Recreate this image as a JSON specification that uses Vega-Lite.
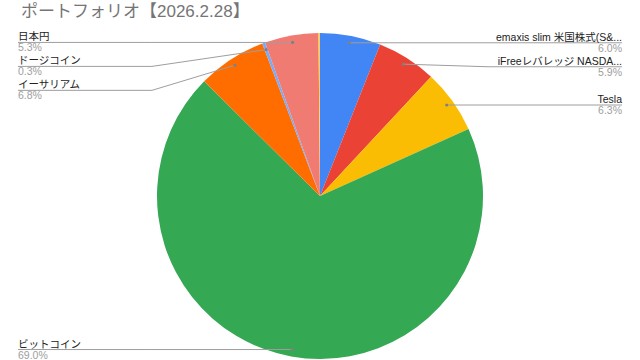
{
  "$schema": "https://vega.github.io/schema/vega-lite/v6.json",
  "width": 640,
  "height": 360,
  "padding": 0,
  "autosize": {"type": "none"},
  "background": "white",
  "config": {"view": {"stroke": null}},
  "title": {
    "text": "ポートフォリオ【2026.2.28】",
    "anchor": "start",
    "frame": "group",
    "fontSize": 17,
    "fontWeight": "normal",
    "font": "Liberation Sans, Noto Sans CJK JP",
    "color": "#757575",
    "baseline": "top",
    "offset": -21,
    "dx": 21
  },
  "data": {
    "values": [
      {"i": 1, "name": "emaxis slim 米国株式(S&...", "value": 6.0},
      {"i": 2, "name": "iFreeレバレッジ NASDA...", "value": 5.9},
      {"i": 3, "name": "Tesla", "value": 6.3},
      {"i": 4, "name": "ビットコイン", "value": 69.0},
      {"i": 5, "name": "イーサリアム", "value": 6.8},
      {"i": 6, "name": "ドージコイン", "value": 0.3},
      {"i": 7, "name": "日本円", "value": 5.3},
      {"i": 8, "name": "その他", "value": 0.15}
    ]
  },
  "transform": [
    {"joinaggregate": [{"op": "sum", "field": "value", "as": "total"}]},
    {"window": [{"op": "sum", "field": "value", "as": "cum"}], "sort": [{"field": "i"}], "frame": [null, 0]}
  ],
  "layer": [
    {
      "mark": {"type": "arc", "outerRadius": 163},
      "encoding": {
        "x": {"datum": 0, "type": "quantitative", "scale": {"domain": [-1.9632, 1.9632], "nice": false, "zero": false}, "axis": null},
        "y": {"datum": 0, "type": "quantitative", "scale": {"domain": [-1.0061, 1.2025], "nice": false, "zero": false}, "axis": null},
        "theta": {"field": "value", "type": "quantitative", "stack": true},
        "order": {"field": "i", "type": "quantitative"},
        "color": {
          "field": "name",
          "type": "nominal",
          "legend": null,
          "scale": {
            "domain": ["emaxis slim 米国株式(S&...", "iFreeレバレッジ NASDA...", "Tesla", "ビットコイン", "イーサリアム", "ドージコイン", "日本円", "その他"],
            "range": ["#4285F4", "#EA4335", "#FBBC04", "#34A853", "#FF6D01", "#7BAAF7", "#F07B72", "#FCD04F"]
          }
        }
      }
    },
    {
      "transform": [
        {"filter": "datum.value > 0.2"},
        {"calculate": "(datum.cum - datum.value / 2) / datum.total * 2 * PI", "as": "mid"},
        {"calculate": "0.957 * sin(datum.mid)", "as": "dx"},
        {"calculate": "0.957 * cos(datum.mid)", "as": "dy"},
        {"calculate": "sin(datum.mid) >= 0 ? 1 : -1", "as": "side"},
        {"window": [{"op": "row_number", "as": "rank"}], "groupby": ["side"], "sort": [{"field": "dy", "order": "descending"}]},
        {"calculate": "datum.dy + 0.147 * datum.rank", "as": "t"},
        {"window": [{"op": "min", "field": "t", "as": "tmin"}], "groupby": ["side"], "sort": [{"field": "dy", "order": "descending"}], "frame": [null, 0]},
        {"calculate": "datum.tmin - 0.147 * datum.rank", "as": "ly"},
        {"calculate": "datum.side * 1.853", "as": "lx"},
        {"calculate": "datum.side * 1.031", "as": "bx"},
        {"calculate": "format(datum.value, '.1f') + '%'", "as": "pct"}
      ],
      "layer": [
        {
          "mark": {"type": "rule", "color": "#9e9e9e", "strokeWidth": 1},
          "encoding": {
            "x": {"field": "lx", "type": "quantitative"},
            "x2": {"field": "bx"},
            "y": {"field": "ly", "type": "quantitative"},
            "y2": {"field": "ly"}
          }
        },
        {
          "mark": {"type": "rule", "color": "#9e9e9e", "strokeWidth": 1},
          "encoding": {
            "x": {"field": "bx", "type": "quantitative"},
            "x2": {"field": "dx"},
            "y": {"field": "ly", "type": "quantitative"},
            "y2": {"field": "dy"}
          }
        },
        {
          "mark": {"type": "point", "filled": true, "color": "#808080", "size": 10, "opacity": 1},
          "encoding": {
            "x": {"field": "dx", "type": "quantitative"},
            "y": {"field": "dy", "type": "quantitative"}
          }
        },
        {
          "mark": {"type": "text", "font": "Liberation Sans, Noto Sans CJK JP", "fontSize": 10.5, "color": "#222222", "baseline": "alphabetic", "dy": -2, "align": {"expr": "datum.side > 0 ? 'right' : 'left'"}},
          "encoding": {
            "x": {"field": "lx", "type": "quantitative"},
            "y": {"field": "ly", "type": "quantitative"},
            "text": {"field": "name"}
          }
        },
        {
          "mark": {"type": "text", "font": "Liberation Sans, Noto Sans CJK JP", "fontSize": 10.5, "color": "#9e9e9e", "baseline": "top", "dy": 1, "align": {"expr": "datum.side > 0 ? 'right' : 'left'"}},
          "encoding": {
            "x": {"field": "lx", "type": "quantitative"},
            "y": {"field": "ly", "type": "quantitative"},
            "text": {"field": "pct"}
          }
        }
      ]
    }
  ]
}
